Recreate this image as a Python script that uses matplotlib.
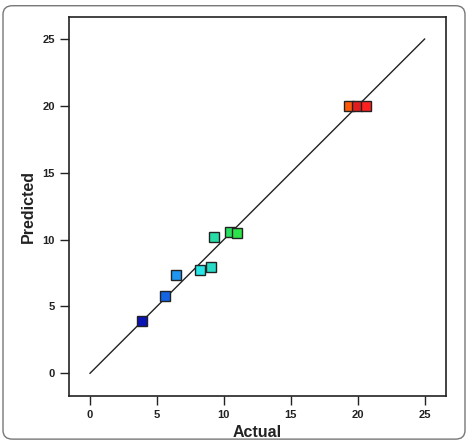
import matplotlib
matplotlib.use("Agg")
import matplotlib.pyplot as plt
from matplotlib.patches import FancyBboxPatch

plt.rcParams['font.family'] = ['Liberation Sans', 'DejaVu Sans']

actual = [3.9, 5.63, 6.43, 8.2, 9.05, 9.25, 10.45, 10.99, 19.35, 19.94, 20.62]
predicted = [3.91, 5.78, 7.35, 7.75, 7.97, 10.17, 10.55, 10.47, 19.99, 19.99, 19.99]
colors = ['#0a14b4', '#1464e6', '#1e96f0', '#28e6e6', '#28dcc8', '#28dca8',
          '#28e060', '#2ce44a', '#ff5a0a', '#e01e1e', '#ff2020']
ticks = [0, 5, 10, 15, 20, 25]

fig = plt.figure(figsize=(4.69, 4.40), dpi=100)
ax = fig.add_axes([69/469, 1-396/440, (446-69)/469, (396-17)/440])

border = FancyBboxPatch((3/469, 0.002), 462/469, 0.985,
                        boxstyle="round,pad=0,rounding_size=0.02",
                        transform=fig.transFigure, fill=False,
                        edgecolor='#777777', linewidth=1.0)
fig.patches.append(border)

ax.plot([0, 25], [0, 25], color='#222222', linewidth=1.0, zorder=2)
for x, y, c in zip(actual, predicted, colors):
    ax.plot(x, y, marker='s', markersize=6.5, markerfacecolor=c,
            markeredgecolor='#222222', markeredgewidth=1.0, linestyle='none', zorder=3)

ax.set_xlim(-1.57, 26.6)
ax.set_ylim(-1.7, 26.65)
ax.set_xticks(ticks)
ax.set_yticks(ticks)
ax.tick_params(direction='out', length=6.5, width=1, labelsize=8, pad=3.5,
               colors='#222222')
for lab in ax.get_xticklabels() + ax.get_yticklabels():
    lab.set_fontweight('bold')
for s in ax.spines.values():
    s.set_linewidth(1.2)
    s.set_color('#222222')

ax.set_xlabel('Actual', fontsize=11.5, fontweight='bold', labelpad=4, color='#222222')
ax.set_ylabel('Predicted', fontsize=11.5, fontweight='bold', labelpad=5, color='#222222')

fig.savefig('out.png', dpi=100)
